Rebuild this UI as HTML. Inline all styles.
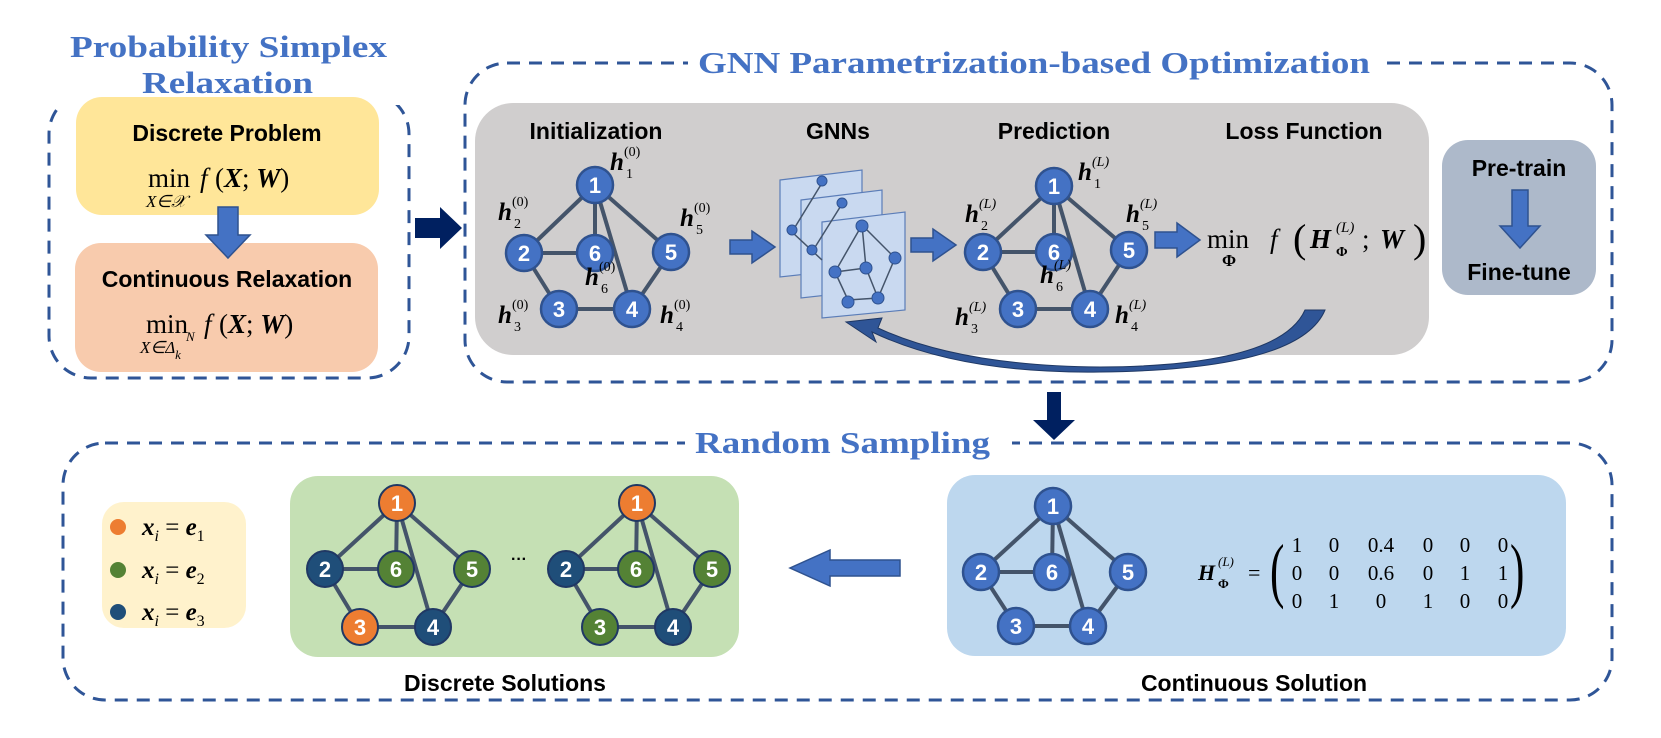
<!DOCTYPE html>
<html><head><meta charset="utf-8"><style>
html,body{margin:0;padding:0;background:#fff;}
svg{display:block}
.t{font-family:"Liberation Sans",sans-serif;font-weight:bold;fill:#000}
.ti{font-family:"Liberation Serif",serif;font-weight:bold;fill:#4472C4}
.m{font-family:"Liberation Serif",serif;fill:#000}
.nn{font-family:"Liberation Sans",sans-serif;font-weight:bold;fill:#fff;font-size:22px;text-anchor:middle}
</style></head><body>
<svg width="1661" height="738" viewBox="0 0 1661 738" xmlns="http://www.w3.org/2000/svg">
<!-- dashed boxes -->
<g fill="none" stroke="#2F5597" stroke-width="3" stroke-dasharray="13 9">
<rect x="49" y="92" width="360" height="286" rx="42"/>
<rect x="465" y="63" width="1147" height="319" rx="42"/>
<rect x="63" y="443" width="1549" height="257" rx="42"/>
</g>
<!-- titles w/ white bg -->
<rect x="60" y="20" width="340" height="85" fill="#fff"/>
<text class="ti" x="70" y="57" font-size="31" textLength="317" lengthAdjust="spacingAndGlyphs">Probability Simplex</text>
<text class="ti" x="142" y="93" font-size="31" textLength="171" lengthAdjust="spacingAndGlyphs">Relaxation</text>
<rect x="688" y="40" width="695" height="40" fill="#fff"/>
<text class="ti" x="698" y="73" font-size="31" textLength="672" lengthAdjust="spacingAndGlyphs">GNN Parametrization-based Optimization</text>
<rect x="685" y="425" width="327" height="40" fill="#fff"/>
<text class="ti" x="695" y="453" font-size="31" textLength="295" lengthAdjust="spacingAndGlyphs">Random Sampling</text>

<!-- left boxes -->
<rect x="76" y="97" width="303" height="118" rx="26" fill="#FFE699"/>
<text class="t" x="227" y="141" font-size="23" text-anchor="middle">Discrete Problem</text>
<text class="m" x="148" y="187" font-size="27">min</text>
<text class="m" x="146" y="207" font-size="17" font-style="italic">X∈𝒳</text>
<text class="m" x="200" y="187" font-size="27" font-style="italic">f</text>
<text class="m" x="215" y="187" font-size="27">(<tspan font-weight="bold" font-style="italic">X</tspan>; <tspan font-weight="bold" font-style="italic">W</tspan>)</text>
<rect x="75" y="243" width="303" height="129" rx="26" fill="#F8CBAD"/>
<text class="t" x="227" y="287" font-size="23" text-anchor="middle">Continuous Relaxation</text>
<text class="m" x="146" y="333" font-size="27">min</text>
<text class="m" x="140" y="353" font-size="17" font-style="italic">X∈Δ<tspan font-size="13" dy="6">k</tspan></text>
<text class="m" x="186" y="341" font-size="13" font-style="italic">N</text>
<text class="m" x="204" y="333" font-size="27" font-style="italic">f</text>
<text class="m" x="219" y="333" font-size="27">(<tspan font-weight="bold" font-style="italic">X</tspan>; <tspan font-weight="bold" font-style="italic">W</tspan>)</text>
<polygon points="218,207 238,207 238,235 250,235 228,258 206,235 218,235" fill="#4472C4" stroke="#2F528F" stroke-width="1.5"/>

<!-- navy arrow right -->
<polygon points="415,218 440,218 440,207 462,228 440,249 440,238 415,238" fill="#002060"/>

<!-- gray box -->
<rect x="475" y="103" width="954" height="252" rx="38" fill="#D0CECE"/>
<text class="t" x="596" y="139" font-size="23" text-anchor="middle">Initialization</text>
<text class="t" x="838" y="139" font-size="23" text-anchor="middle">GNNs</text>
<text class="t" x="1054" y="139" font-size="23" text-anchor="middle">Prediction</text>
<text class="t" x="1304" y="139" font-size="23" text-anchor="middle">Loss Function</text>

<!-- init graph -->
<g stroke="#44546A" stroke-width="4">
<line x1="595" y1="185" x2="524" y2="253"/><line x1="595" y1="185" x2="595" y2="253"/><line x1="595" y1="185" x2="632" y2="309"/><line x1="595" y1="185" x2="671" y2="252"/><line x1="524" y1="253" x2="595" y2="253"/><line x1="524" y1="253" x2="559" y2="309"/><line x1="559" y1="309" x2="632" y2="309"/><line x1="632" y1="309" x2="671" y2="252"/>
</g>
<g fill="#4472C4" stroke="#2F528F" stroke-width="2.5">
<circle cx="595" cy="185" r="18"/><circle cx="524" cy="253" r="18"/><circle cx="595" cy="253" r="18"/><circle cx="671" cy="252" r="18"/><circle cx="559" cy="309" r="18"/><circle cx="632" cy="309" r="18"/>
</g>
<g class="nn"><text x="595" y="193">1</text><text x="524" y="261">2</text><text x="595" y="261">6</text><text x="671" y="260">5</text><text x="559" y="317">3</text><text x="632" y="317">4</text></g>
<g class="m" font-size="14">
<g font-size="25" font-weight="bold" font-style="italic"><text x="610" y="170">h</text><text x="498" y="220">h</text><text x="680" y="226">h</text><text x="585" y="285">h</text><text x="498" y="323">h</text><text x="660" y="323">h</text></g>
<text x="624" y="156">(0)</text><text x="626" y="178">1</text>
<text x="512" y="206">(0)</text><text x="514" y="228">2</text>
<text x="694" y="212">(0)</text><text x="696" y="234">5</text>
<text x="599" y="271">(0)</text><text x="601" y="293">6</text>
<text x="512" y="309">(0)</text><text x="514" y="331">3</text>
<text x="674" y="309">(0)</text><text x="676" y="331">4</text>
</g>

<!-- arrow init->gnn -->
<polygon points="730,240 752,240 752,231 775,247 752,263 752,254 730,254" fill="#4472C4" stroke="#2F528F" stroke-width="1.5"/>

<!-- GNN planes -->
<g stroke="#5B7DB8" stroke-width="1.2">
<polygon points="780,180 862,170 862,268 780,277" fill="#C9D9F0"/>
<polygon points="801,200 882,190 882,289 801,298" fill="#C9D9F0"/>
<polygon points="822,222 905,212 905,310 822,318" fill="#C9D9F0"/>
</g>
<g stroke="#44546A" stroke-width="1.5" fill="none">
<path d="M822,183 L792,232 L822,260 M842,204 L812,252 M862,225 L835,272 L848,300 L878,298 L895,258 L862,225 L866,268 L835,272 M866,268 L878,298"/>
</g>
<g fill="#4472C4" stroke="#2F528F">
<circle cx="822" cy="181" r="5"/><circle cx="792" cy="230" r="5"/><circle cx="842" cy="203" r="5"/><circle cx="812" cy="250" r="5"/>
<circle cx="862" cy="226" r="6"/><circle cx="835" cy="272" r="6"/><circle cx="866" cy="268" r="6"/><circle cx="895" cy="258" r="6"/><circle cx="848" cy="302" r="6"/><circle cx="878" cy="298" r="6"/>
</g>

<!-- arrow gnn->pred -->
<polygon points="911,238 933,238 933,229 956,245 933,261 933,252 911,252" fill="#4472C4" stroke="#2F528F" stroke-width="1.5"/>

<!-- prediction graph -->
<g stroke="#44546A" stroke-width="4">
<line x1="1054" y1="186" x2="983" y2="252"/><line x1="1054" y1="186" x2="1054" y2="252"/><line x1="1054" y1="186" x2="1090" y2="309"/><line x1="1054" y1="186" x2="1129" y2="250"/><line x1="983" y1="252" x2="1054" y2="252"/><line x1="983" y1="252" x2="1018" y2="309"/><line x1="1018" y1="309" x2="1090" y2="309"/><line x1="1090" y1="309" x2="1129" y2="250"/>
</g>
<g fill="#4472C4" stroke="#2F528F" stroke-width="2.5">
<circle cx="1054" cy="186" r="18"/><circle cx="983" cy="252" r="18"/><circle cx="1054" cy="252" r="18"/><circle cx="1129" cy="250" r="18"/><circle cx="1018" cy="309" r="18"/><circle cx="1090" cy="309" r="18"/>
</g>
<g class="nn"><text x="1054" y="194">1</text><text x="983" y="260">2</text><text x="1054" y="260">6</text><text x="1129" y="258">5</text><text x="1018" y="317">3</text><text x="1090" y="317">4</text></g>
<g class="m" font-size="14" font-style="italic">
<g font-size="25" font-weight="bold"><text x="1078" y="180">h</text><text x="965" y="222">h</text><text x="1126" y="222">h</text><text x="1040" y="283">h</text><text x="955" y="325">h</text><text x="1115" y="323">h</text></g>
<text x="1092" y="166">(L)</text><text x="1094" y="188" font-style="normal">1</text>
<text x="979" y="208">(L)</text><text x="981" y="230" font-style="normal">2</text>
<text x="1140" y="208">(L)</text><text x="1142" y="230" font-style="normal">5</text>
<text x="1054" y="269">(L)</text><text x="1056" y="291" font-style="normal">6</text>
<text x="969" y="311">(L)</text><text x="971" y="333" font-style="normal">3</text>
<text x="1129" y="309">(L)</text><text x="1131" y="331" font-style="normal">4</text>
</g>

<!-- arrow pred->loss -->
<polygon points="1155,232 1177,232 1177,223 1200,240 1177,257 1177,248 1155,248" fill="#4472C4" stroke="#2F528F" stroke-width="1.5"/>
<text class="m" x="1207" y="248" font-size="27">min</text>
<text class="m" x="1222" y="266" font-size="17" font-weight="bold">Φ</text>
<text class="m" x="1270" y="248" font-size="27" font-style="italic">f</text>
<text class="m" x="1293" y="252" font-size="40">(</text>
<text class="m" x="1310" y="248" font-size="27" font-weight="bold" font-style="italic">H</text>
<text class="m" x="1336" y="232" font-size="15" font-style="italic">(L)</text>
<text class="m" x="1336" y="256" font-size="14" font-weight="bold">Φ</text>
<text class="m" x="1362" y="248" font-size="27">;</text>
<text class="m" x="1380" y="248" font-size="27" font-weight="bold" font-style="italic">W</text>
<text class="m" x="1413" y="252" font-size="40">)</text>

<!-- feedback curve -->
<path d="M1305,310 L1325,310 Q1300,370 1100,372 Q960,374 872,332 L876,342 L846,322 L882,318 L878,328 Q960,366 1100,367 Q1280,366 1305,310 Z" fill="#2F5597" stroke="#1F3864" stroke-width="1"/>

<!-- pretrain -->
<rect x="1442" y="140" width="154" height="155" rx="26" fill="#ADB9CA"/>
<text class="t" x="1519" y="176" font-size="23" text-anchor="middle">Pre-train</text>
<polygon points="1512,190 1528,190 1528,226 1540,226 1520,248 1500,226 1512,226" fill="#4472C4" stroke="#2F528F" stroke-width="1.5"/>
<text class="t" x="1519" y="280" font-size="23" text-anchor="middle">Fine-tune</text>

<!-- navy down arrow -->
<polygon points="1047,392 1061,392 1061,420 1075,420 1054,440 1033,420 1047,420" fill="#002060"/>

<!-- legend -->
<rect x="102" y="502" width="144" height="126" rx="22" fill="#FFF2CC"/>
<circle cx="118" cy="527" r="8" fill="#ED7D31"/><circle cx="118" cy="570" r="8" fill="#548235"/><circle cx="118" cy="612" r="8" fill="#1F4E79"/>
<g class="m" font-size="25"><text x="142" y="535"><tspan font-weight="bold" font-style="italic">x</tspan><tspan font-size="16" dy="6" font-style="italic">i</tspan><tspan dy="-6"> = </tspan><tspan font-weight="bold" font-style="italic">e</tspan><tspan font-size="16" dy="6">1</tspan></text>
<text x="142" y="578"><tspan font-weight="bold" font-style="italic">x</tspan><tspan font-size="16" dy="6" font-style="italic">i</tspan><tspan dy="-6"> = </tspan><tspan font-weight="bold" font-style="italic">e</tspan><tspan font-size="16" dy="6">2</tspan></text>
<text x="142" y="620"><tspan font-weight="bold" font-style="italic">x</tspan><tspan font-size="16" dy="6" font-style="italic">i</tspan><tspan dy="-6"> = </tspan><tspan font-weight="bold" font-style="italic">e</tspan><tspan font-size="16" dy="6">3</tspan></text></g>

<!-- green box -->
<rect x="290" y="476" width="449" height="181" rx="28" fill="#C5E0B4"/>
<g stroke="#44546A" stroke-width="4">
<line x1="397" y1="503" x2="325" y2="569"/><line x1="397" y1="503" x2="396" y2="569"/><line x1="397" y1="503" x2="433" y2="627"/><line x1="397" y1="503" x2="472" y2="569"/><line x1="325" y1="569" x2="396" y2="569"/><line x1="325" y1="569" x2="360" y2="627"/><line x1="360" y1="627" x2="433" y2="627"/><line x1="433" y1="627" x2="472" y2="569"/>
<line x1="637" y1="503" x2="566" y2="569"/><line x1="637" y1="503" x2="636" y2="569"/><line x1="637" y1="503" x2="673" y2="627"/><line x1="637" y1="503" x2="712" y2="569"/><line x1="566" y1="569" x2="636" y2="569"/><line x1="566" y1="569" x2="600" y2="627"/><line x1="600" y1="627" x2="673" y2="627"/><line x1="673" y1="627" x2="712" y2="569"/>
</g>
<g stroke="#203864" stroke-width="2">
<circle cx="397" cy="503" r="18" fill="#ED7D31"/><circle cx="325" cy="569" r="18" fill="#1F4E79"/><circle cx="396" cy="569" r="18" fill="#548235"/><circle cx="472" cy="569" r="18" fill="#548235"/><circle cx="360" cy="627" r="18" fill="#ED7D31"/><circle cx="433" cy="627" r="18" fill="#1F4E79"/>
<circle cx="637" cy="503" r="18" fill="#ED7D31"/><circle cx="566" cy="569" r="18" fill="#1F4E79"/><circle cx="636" cy="569" r="18" fill="#548235"/><circle cx="712" cy="569" r="18" fill="#548235"/><circle cx="600" cy="627" r="18" fill="#548235"/><circle cx="673" cy="627" r="18" fill="#1F4E79"/>
</g>
<g class="nn"><text x="397" y="511">1</text><text x="325" y="577">2</text><text x="396" y="577">6</text><text x="472" y="577">5</text><text x="360" y="635">3</text><text x="433" y="635">4</text>
<text x="637" y="511">1</text><text x="566" y="577">2</text><text x="636" y="577">6</text><text x="712" y="577">5</text><text x="600" y="635">3</text><text x="673" y="635">4</text></g>
<text class="t" x="519" y="564" font-size="16" font-weight="normal" text-anchor="middle">···</text>
<text class="t" x="505" y="691" font-size="23" text-anchor="middle">Discrete Solutions</text>

<!-- left arrow -->
<polygon points="900,560 830,560 830,550 790,568 830,586 830,576 900,576" fill="#4472C4" stroke="#2F528F" stroke-width="1.5"/>

<!-- blue box -->
<rect x="947" y="475" width="619" height="181" rx="28" fill="#BDD7EE"/>
<g stroke="#44546A" stroke-width="4">
<line x1="1053" y1="506" x2="981" y2="572"/><line x1="1053" y1="506" x2="1052" y2="572"/><line x1="1053" y1="506" x2="1088" y2="626"/><line x1="1053" y1="506" x2="1128" y2="572"/><line x1="981" y1="572" x2="1052" y2="572"/><line x1="981" y1="572" x2="1016" y2="626"/><line x1="1016" y1="626" x2="1088" y2="626"/><line x1="1088" y1="626" x2="1128" y2="572"/>
</g>
<g fill="#4472C4" stroke="#2F528F" stroke-width="2.5">
<circle cx="1053" cy="506" r="18"/><circle cx="981" cy="572" r="18"/><circle cx="1052" cy="572" r="18"/><circle cx="1128" cy="572" r="18"/><circle cx="1016" cy="626" r="18"/><circle cx="1088" cy="626" r="18"/>
</g>
<g class="nn"><text x="1053" y="514">1</text><text x="981" y="580">2</text><text x="1052" y="580">6</text><text x="1128" y="580">5</text><text x="1016" y="634">3</text><text x="1088" y="634">4</text></g>
<text class="m" x="1198" y="580" font-size="22" font-weight="bold" font-style="italic">H</text>
<text class="m" x="1218" y="566" font-size="13" font-style="italic">(L)</text>
<text class="m" x="1218" y="588" font-size="13" font-weight="bold">Φ</text>
<text class="m" x="1248" y="580" font-size="22">=</text>
<text class="m" x="1270" y="594" font-size="72" transform="translate(1270 0) scale(0.6 1) translate(-1270 0)">(</text>
<text class="m" x="1510" y="594" font-size="72" transform="translate(1510 0) scale(0.6 1) translate(-1510 0)">)</text>
<g class="m" font-size="21" text-anchor="middle">
<text x="1297" y="552">1</text><text x="1334" y="552">0</text><text x="1381" y="552">0.4</text><text x="1428" y="552">0</text><text x="1465" y="552">0</text><text x="1503" y="552">0</text>
<text x="1297" y="580">0</text><text x="1334" y="580">0</text><text x="1381" y="580">0.6</text><text x="1428" y="580">0</text><text x="1465" y="580">1</text><text x="1503" y="580">1</text>
<text x="1297" y="608">0</text><text x="1334" y="608">1</text><text x="1381" y="608">0</text><text x="1428" y="608">1</text><text x="1465" y="608">0</text><text x="1503" y="608">0</text>
</g>
<text class="t" x="1254" y="691" font-size="23" text-anchor="middle">Continuous Solution</text>
</svg>
</body></html>
